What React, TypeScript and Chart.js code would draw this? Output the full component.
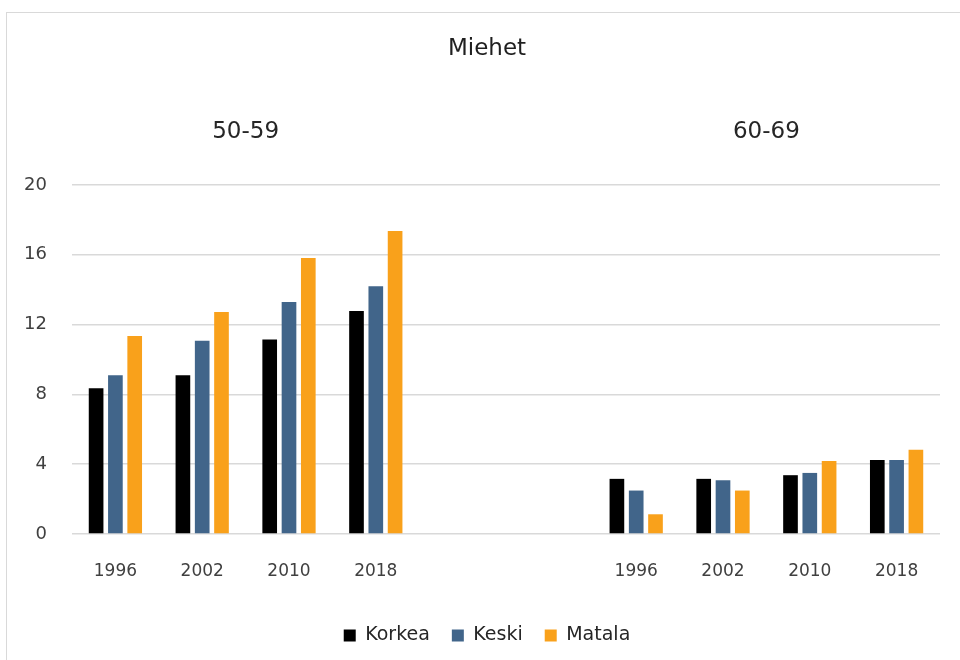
import React, { useEffect, useRef } from "react";
import { Chart, registerables } from "chart.js";

Chart.register(...registerables);

const categories = ["1996", "2002", "2010", "2018", "", "", "1996", "2002", "2010", "2018"];
const korkea = [8.35, 9.1, 11.15, 12.78, null, null, 3.16, 3.16, 3.37, 4.24];
const keski = [9.1, 11.07, 13.3, 14.2, null, null, 2.49, 3.08, 3.5, 4.24];
const matala = [11.34, 12.72, 15.82, 17.36, null, null, 1.13, 2.49, 4.18, 4.83];
const seriesNames = ["Korkea", "Keski", "Matala"];
const groupLabels = ["50-59", "60-69"];
const groupStart = [0, 6];
const groupEnd = [3, 9];
const titleText = "Miehet";

const FONT = "'DejaVu Sans', 'Noto Sans', sans-serif";

const groupLabelPlugin = {
  id: "groupLabels",
  beforeDraw(chart: any) {
    const ctx = chart.ctx;
    ctx.save();
    ctx.fillStyle = "#ffffff";
    ctx.fillRect(0, 0, chart.width, chart.height);
    ctx.strokeStyle = "#d9d9d9";
    ctx.lineWidth = 1;
    ctx.strokeRect(6.5, 12.5, chart.width + 20, chart.height + 20);
    ctx.restore();
  },
  afterDraw(chart: any) {
    const ctx = chart.ctx;
    const x = chart.scales.x;
    const top = chart.chartArea.top;
    ctx.save();
    ctx.font = `23px ${FONT}`;
    ctx.fillStyle = "#262626";
    ctx.textAlign = "center";
    ctx.textBaseline = "middle";
    groupLabels.forEach((lbl, i) => {
      const cx = (x.getPixelForValue(groupStart[i]) + x.getPixelForValue(groupEnd[i])) / 2;
      ctx.fillText(lbl, cx, top - 53);
    });
    ctx.restore();
  },
};

export default function App() {
  const ref = useRef<HTMLCanvasElement | null>(null);
  useEffect(() => {
    document.body.style.margin = "0";
    if (!ref.current) return;
    const chart = new Chart(ref.current, {
      type: "bar",
      data: {
        labels: categories,
        datasets: [
          { label: seriesNames[0], data: korkea, backgroundColor: "#000000", yAxisID: "y" },
          { label: seriesNames[1], data: keski, backgroundColor: "#41658a", yAxisID: "y" },
          { label: seriesNames[2], data: matala, backgroundColor: "#f9a11b", yAxisID: "y" },
        ],
      },
      options: {
        responsive: false,
        devicePixelRatio: 1,
        animation: false,
        layout: { padding: { left: 14, right: 0, top: 0, bottom: 5 } },
        datasets: { bar: { categoryPercentage: 0.667, barPercentage: 0.76 } },
        plugins: {
          title: {
            display: true,
            text: titleText,
            color: "#1f1f1f",
            font: { family: FONT, size: 23, weight: "normal" },
            padding: { top: 35, bottom: 122.4 },
          },
          legend: {
            position: "bottom",
            maxHeight: 52,
            labels: {
              boxWidth: 12,
              boxHeight: 12,
              padding: 22,
              color: "#262626",
              font: { family: FONT, size: 19 },
            },
          },
          tooltip: { enabled: false },
        },
        scales: {
          x: {
            grid: { display: false, drawTicks: false },
            border: { display: false },
            ticks: { color: "#404040", font: { family: FONT, size: 17 }, padding: 27, maxRotation: 0, autoSkip: false },
            afterFit: (s: any) => { s.height = 70; },
          },
          y: {
            min: 0,
            max: 20,
            ticks: { stepSize: 4, color: "#404040", font: { family: FONT, size: 18 }, padding: 25 },
            grid: { color: "#d9d9d9", lineWidth: 1.5, drawTicks: false },
            border: { display: false },
            afterFit: (s: any) => { s.width = 58; },
          },
          y2: {
            position: "right",
            display: true,
            min: 0,
            max: 20,
            ticks: { display: false },
            grid: { display: false, drawTicks: false },
            border: { display: false },
            afterFit: (s: any) => { s.width = 20; },
          },
        },
      },
      plugins: [groupLabelPlugin],
    } as any);
    return () => chart.destroy();
  }, []);
  return (
    <div style={{ width: 960, height: 660 }}>
      <canvas ref={ref} width={960} height={660} style={{ display: "block" }} />
    </div>
  );
}
